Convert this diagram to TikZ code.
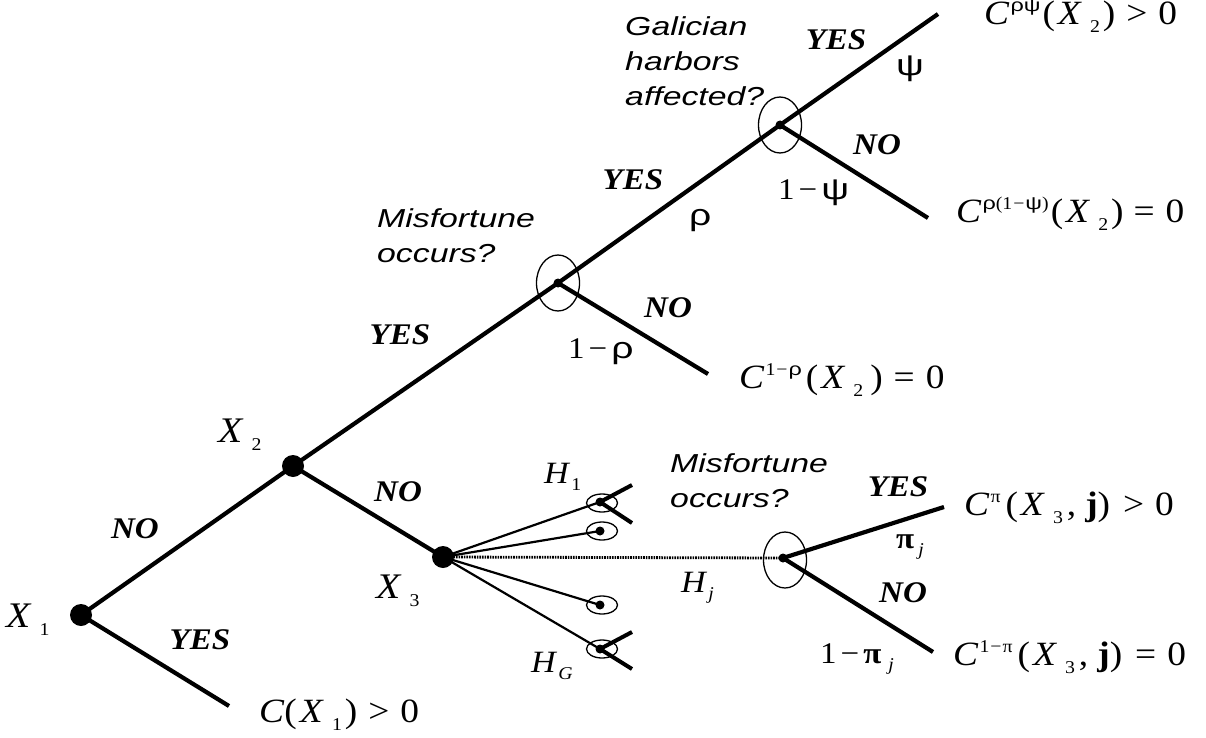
\documentclass[tikz,border=0pt]{standalone}
\usepackage{fontspec}
\setmainfont[FakeStretch=1.1]{Liberation Serif}
\newfontfamily\arialw[FakeStretch=1.3]{Liberation Sans}
\usetikzlibrary{shapes.geometric}
% subscript after X (with gap), subscript after H (tight), superscript after C
\newcommand\xsb[1]{\kern8pt\raisebox{-8pt}{\fontsize{18}{18}\selectfont #1}}
\newcommand\hsb[1]{\kern1pt\raisebox{-7pt}{\fontsize{18}{18}\selectfont #1}}
\newcommand\csp[1]{\kern1pt\raisebox{13pt}{\fontsize{18}{18}\selectfont #1}\kern2pt}
\newcommand\gr[1]{{\arialw #1}}
\newcommand\opn{(\kern3pt}
\newcommand\cls{\kern3pt)}
\newcommand\rel[1]{\kern11pt#1\kern11pt}
\newcommand\mn{\kern4pt−\kern4pt}
\newcommand\smn{\kern1pt−\kern1pt}
\begin{document}
\begin{tikzpicture}[x=1pt,y=-1pt,
  branch/.style={line width=4.2pt},
  fanline/.style={line width=2.2pt},
  tick/.style={line width=4pt},
  bigdot/.style={circle,fill=black,inner sep=0pt,minimum size=22pt},
  smalldot/.style={circle,fill=black,inner sep=0pt,minimum size=9pt},
  oval/.style={draw,ellipse,inner sep=0pt,line width=1.3pt},
  bigoval/.style={oval,minimum width=43pt,minimum height=56pt},
  smoval/.style={oval,minimum width=31pt,minimum height=18pt},
  yn/.style={font=\fontsize{30}{30}\selectfont\bfseries\itshape,inner sep=0pt},
  qtext/.style={font=\fontsize{26}{35}\selectfont\arialw\itshape,align=left,anchor=base west,inner sep=0pt},
  mathl/.style={font=\fontsize{34}{34}\selectfont,anchor=base west,inner sep=0pt},
  xl/.style={font=\fontsize{36}{36}\selectfont,anchor=base west,inner sep=0pt},
  hl/.style={font=\fontsize{31}{31}\selectfont,anchor=base west,inner sep=0pt},
  prob/.style={font=\fontsize{30}{30}\selectfont,anchor=base west,inner sep=0pt}]
\useasboundingbox (0,0) rectangle (1206,738);
% decision / chance points
\node[bigdot] (x1) at (81,615) {};
\node[bigdot] (x2) at (293,466) {};
\node[bigdot] (x3) at (443,557) {};
\node[smalldot] (m1) at (558,283) {};
\node[smalldot] (g1) at (780,125) {};
\node[smalldot] (mj) at (783,558) {};
\node[smalldot] (h1) at (600,502) {};
\node[smalldot] (h2) at (600,531) {};
\node[smalldot] (h4) at (600,605) {};
\node[smalldot] (hg) at (600,649) {};
% ends
\coordinate (e1) at (229,706);
\coordinate (em) at (708,374);
\coordinate (egy) at (938,14);
\coordinate (egn) at (928,218);
\coordinate (ejy) at (944,507);
\coordinate (ejn) at (933,652);
\coordinate (t1a) at (632,485);
\coordinate (t1b) at (632,523);
\coordinate (tga) at (632,632);
\coordinate (tgb) at (632,669);
% ovals
\node[bigoval] (om1) at (558,283) {};
\node[bigoval] (og1) at (780,125) {};
\node[bigoval] (omj) at (785,560) {};
\node[smoval] (oh1) at (602,503) {};
\node[smoval] (oh2) at (602,531) {};
\node[smoval] (oh4) at (602,605) {};
\node[smoval] (ohg) at (602,649) {};
% main branches
\draw[branch] (x1.center) -- (x2.center);
\draw[branch] (x1.center) -- (e1);
\draw[branch] (x2.center) -- (m1.center);
\draw[branch] (x2.center) -- (x3.center);
\draw[branch] (m1.center) -- (g1.center);
\draw[branch] (m1.center) -- (em);
\draw[branch] (g1.center) -- (egy);
\draw[branch] (g1.center) -- (egn);
\draw[branch] (mj.center) -- (ejy);
\draw[branch] (mj.center) -- (ejn);
% fan from X3
\draw[fanline] (x3.center) -- (h1.center);
\draw[fanline] (x3.center) -- (h2.center);
\draw[fanline] (x3.center) -- (h4.center);
\draw[fanline] (x3.center) -- (hg.center);
\draw[line width=2.8pt,dash pattern=on 1.6pt off 1pt] (x3.center) -- (mj.center);
\draw[tick] (h1.center) -- (t1a);
\draw[tick] (h1.center) -- (t1b);
\draw[tick] (hg.center) -- (tga);
\draw[tick] (hg.center) -- (tgb);
% state labels
\node[xl] (lx1) at (6,627) {\textit{X}\xsb{1}};
\node[xl] (lx2) at (218,442) {\textit{X}\xsb{2}};
\node[xl] (lx3) at (376,598) {\textit{X}\xsb{3}};
% yes / no labels
\node[yn] (l1) at (135,529) {NO};
\node[yn] (l2) at (200,640) {YES};
\node[yn] (l3) at (400,335) {YES};
\node[yn] (l4) at (398,492) {NO};
\node[yn] (l5) at (633,180) {YES};
\node[yn] (l6) at (668,308) {NO};
\node[yn] (l7) at (836,40) {YES};
\node[yn] (l8) at (877,145) {NO};
\node[yn] (l9) at (898,487) {YES};
\node[yn] (l10) at (903,593) {NO};
% questions
\node[qtext] (q1) at (377,262) {Misfortune\\occurs?};
\node[qtext] (q2) at (625,106) {Galician\\harbors\\affected?};
\node[qtext] (q3) at (670,507) {Misfortune\\occurs?};
% probabilities
\node[prob] (p1) at (689,225) {\gr{ρ}};
\node[prob] (p2) at (568,358) {1\mn\gr{ρ}};
\node[prob] (p3) at (896,76) {\gr{ψ}};
\node[prob] (p4) at (778,200) {1\mn\gr{ψ}};
\node[prob] (p5) at (896,548) {\textbf{π}\kern3pt\hsb{\textit{j}}};
\node[prob] (p6) at (820,663) {1\mn\textbf{π}\kern6pt\hsb{\textit{j}}};
% H labels
\node[hl] (hl1) at (544,483) {\textit{H}\hsb{1}};
\node[hl] (hlg) at (531,672) {\textit{H}\hsb{\textit{G}}};
\node[hl] (hlj) at (681,592) {\textit{H}\hsb{\textit{j}}};
% outcomes
\node[mathl] (c1) at (259,722) {\textit{C}\opn\textit{X}\xsb{1}\cls\rel{\textgreater}0};
\node[mathl] (c2) at (739,388) {\textit{C}\csp{1\smn\gr{ρ}}\kern2pt\opn\textit{X}\xsb{2}\kern4pt\cls\rel{=}0};
\node[mathl] (c3) at (984,25) {\textit{C}\csp{\gr{ρψ}}\opn\textit{X}\xsb{2}\cls\rel{\textgreater}0};
\node[mathl] (c4) at (956,222) {\textit{C}\csp{\gr{ρ}(1\smn\gr{ψ})}\opn\textit{X}\xsb{2}\cls\kern-1pt\rel{=}0};
\node[mathl] (c5) at (964,515) {\textit{C}\csp{π}\kern3pt\opn\textit{X}\xsb{3}\kern4pt,\kern9pt\textbf{j})\kern2pt\rel{\textgreater}0};
\node[mathl] (c6) at (953,665) {\textit{C}\csp{1\smn π}\kern3pt\opn\textit{X}\xsb{3}\kern4pt,\kern9pt\textbf{j})\kern2pt\rel{=}0};
\end{tikzpicture}
\end{document}
